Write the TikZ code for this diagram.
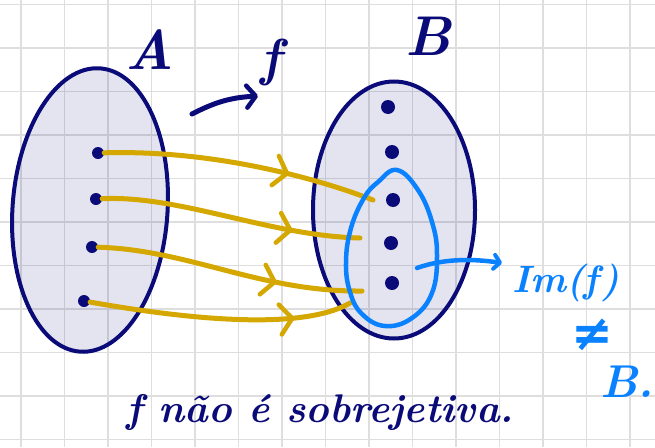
\documentclass[tikz,border=0pt]{standalone}
\usepackage{fontspec}
\newfontfamily\symfnt{DejaVu Sans}
\usetikzlibrary{arrows.meta,decorations.markings,shapes.geometric}
\definecolor{navy}{RGB}{10,10,120}
\definecolor{gold}{RGB}{212,168,0}
\definecolor{imblue}{RGB}{10,130,255}
\definecolor{gridgray}{RGB}{222,222,222}
\begin{document}
\begin{tikzpicture}[x=1pt,y=-1pt,
  setshape/.style={draw=navy, line width=4pt, fill=navy, fill opacity=0.11, ellipse, inner sep=0pt},
  dotA/.style={circle, fill=navy, inner sep=0pt, minimum size=12pt},
  dotB/.style={circle, fill=navy, inner sep=0pt, minimum size=14pt},
  hand/.style={text=navy, font=\bfseries\itshape},
  mapto/.style={draw=gold, line width=5pt, line cap=round, postaction={decorate},
    decoration={markings, mark=at position #1 with {\arrow[gold]{Straight Barb[length=12pt,width=30pt,round,line width=4.5pt]}}}},
  imgset/.style={draw=imblue, line width=4.5pt, line cap=round, line join=round},
  bluetext/.style={text=imblue, font=\bfseries\itshape}]
\useasboundingbox (0,0) rectangle (655,447);
\fill[white] (0,0) rectangle (655,447);
% grid
\foreach \k in {0,...,14} \draw[gridgray, line width=1.3pt] (21+43.5*\k,0) -- (21+43.5*\k,447);
\foreach \k in {0,...,10} \draw[gridgray, line width=1.3pt] (0,4.5+43.5*\k) -- (655,4.5+43.5*\k);
% sets
\node[setshape, minimum width=155pt, minimum height=284pt, rotate=-4] (A) at (90,210) {};
\node[setshape, minimum width=162pt, minimum height=257pt] (B) at (394,210) {};
% labels
\node[hand, font=\fontsize{56}{56}\selectfont\bfseries\itshape] (lA) at (150,50) {A};
\node[hand, font=\fontsize{56}{56}\selectfont\bfseries\itshape] (lB) at (428,36) {B};
\node[hand, font=\fontsize{52}{52}\selectfont\bfseries\itshape] (lf) at (271,62) {f};
\coordinate (fs) at (192,114);
\coordinate (fe) at (258,96);
\draw[navy, line width=5pt, line cap=round, -{Straight Barb[length=9pt,width=22pt,round,line width=4.5pt]}] (fs) to[bend left=12] (fe);
% dots of A
\node[dotA] (a1) at (98,153) {};
\node[dotA] (a2) at (96,199) {};
\node[dotA] (a3) at (92,247) {};
\node[dotA] (a4) at (84,301) {};
% dots of B
\node[dotB] (b1) at (388,107) {};
\node[dotB] (b2) at (392,152) {};
\node[dotB] (b3) at (393,200) {};
\node[dotB] (b4) at (391,243) {};
\node[dotB] (b5) at (392,283) {};
% ends of the mapping arrows
\coordinate (e1) at (373,200);
\coordinate (e2) at (360,238);
\coordinate (e3) at (362,291);
\coordinate (e4) at (350,303);
\draw[mapto=0.68] (a1) .. controls (200,150) and (300,172) .. (e1);
\draw[mapto=0.74] (a2) .. controls (180,195) and (270,236) .. (e2);
\draw[mapto=0.68] (a3) .. controls (190,250) and (260,292) .. (e3);
\draw[mapto=0.78] (a4) .. controls (180,318) and (300,332) .. (e4);
% image of f
\draw[imgset] plot[smooth cycle, tension=0.7] coordinates {(378,182) (397,170) (418,190) (432,222) (437,255) (432,293) (412,318) (385,326) (362,314) (350,292) (346,262) (351,228) (364,198)};
\coordinate (bs) at (417,268);
\coordinate (bt) at (502,263);
\draw[imgset, -{Straight Barb[length=6pt,width=14pt,round,line width=4pt]}] (bs) .. controls (445,258) and (475,259) .. (bt);
\node[bluetext, font=\fontsize{38}{38}\selectfont\bfseries\itshape, anchor=west, inner sep=0pt] (imf) at (512,283) {Im(f)};
\node[text=imblue, inner sep=0pt, font=\fontsize{50}{50}\selectfont\symfnt\bfseries] (neq) at (592,335) {≠};
\node[bluetext, font=\fontsize{46}{46}\selectfont\bfseries\itshape, anchor=base west, inner sep=0pt] (bb) at (600,397) {B.};
% conclusion
\node[hand, font=\fontsize{40}{40}\selectfont\bfseries\itshape, anchor=base] (concl) at (320,422) {f não é sobrejetiva.};
\end{tikzpicture}
\end{document}
